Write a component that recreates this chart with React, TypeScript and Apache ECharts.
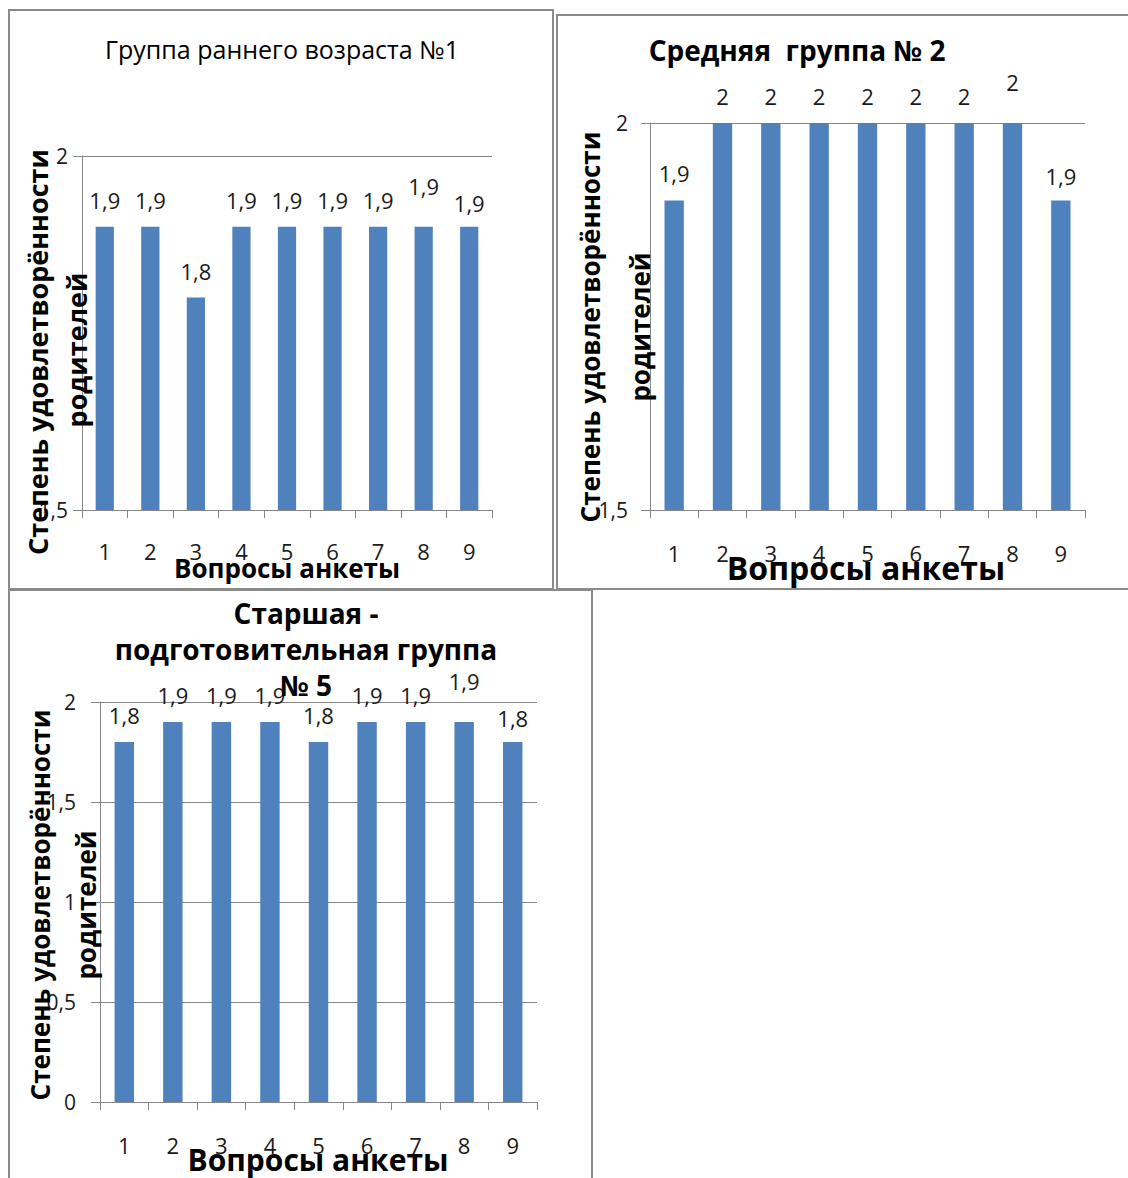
import React, { useEffect, useRef } from "react";
import * as echarts from "echarts";

const categories = ["1", "2", "3", "4", "5", "6", "7", "8", "9"];
const group1Values = [1.9, 1.9, 1.8, 1.9, 1.9, 1.9, 1.9, 1.9, 1.9];
const group2Values = [1.9, 2, 2, 2, 2, 2, 2, 2, 1.9];
const group5Values = [1.8, 1.9, 1.9, 1.9, 1.8, 1.9, 1.9, 1.9, 1.8];
const axisRanges = [
  { min: 1.5, max: 2, interval: 0.5 },
  { min: 1.5, max: 2, interval: 0.5 },
  { min: 0, max: 2, interval: 0.5 },
];
const titles = [
  "Группа раннего возраста №1",
  "Средняя  группа № 2",
  "Старшая -\nподготовительная группа\n№ 5",
];
const xAxisTitle = "Вопросы анкеты";
const yAxisTitleLine1 = "Степень удовлетворённости";
const yAxisTitleLine2 = "родителей";

// label nudges (style only): Excel had labels 8 and 9 dragged slightly
const labelNudge = [0, 0, 0, 0, 0, 0, 0, -14, 3];

const FONT = "'Open Sans', 'Liberation Sans', sans-serif";
const BAR = "#4F81BD";
const GRID = "#868686";
const TXT = "#1a1a1a";

const fmt = (v: number) => String(v).replace(".", ",");

const layouts = [
  { left: 82, top: 156, width: 410, height: 354, xMargin: 30, yMargin: 14 },
  { left: 650, top: 123, width: 435, height: 387, xMargin: 32, yMargin: 22 },
  { left: 100, top: 702, width: 437, height: 400, xMargin: 32, yMargin: 24 },
];

export default function App() {
  const ref = useRef<HTMLDivElement>(null);
  useEffect(() => {
    if (!ref.current) return;
    const chart = echarts.init(ref.current, undefined, { renderer: "svg" });
    const seriesData = [group1Values, group2Values, group5Values];

    const grids = layouts.map((l) => ({
      left: l.left,
      top: l.top,
      width: l.width,
      height: l.height,
      containLabel: false,
    }));
    const xAxes = layouts.map((l, i) => ({
      type: "category",
      gridIndex: i,
      data: categories,
      axisLine: { show: true, lineStyle: { color: GRID, width: 1 } },
      axisTick: { show: true, length: 8, lineStyle: { color: GRID } },
      axisLabel: { margin: l.xMargin, fontSize: 22, color: TXT, fontFamily: FONT },
      splitLine: { show: false },
    }));
    const yAxes = layouts.map((l, i) => ({
      type: "value",
      gridIndex: i,
      min: axisRanges[i].min,
      max: axisRanges[i].max,
      interval: axisRanges[i].interval,
      axisLine: { show: true, lineStyle: { color: GRID, width: 1 } },
      axisTick: { show: true, length: 9, lineStyle: { color: GRID } },
      axisLabel: {
        margin: l.yMargin,
        fontSize: 21,
        color: TXT,
        fontFamily: FONT,
        formatter: (v: number) => fmt(v),
      },
      splitLine: { show: true, lineStyle: { color: GRID, width: 1 } },
    }));
    const series = seriesData.map((vals, i) => ({
      type: "bar",
      xAxisIndex: i,
      yAxisIndex: i,
      barWidth: "40%",
      clip: true,
      itemStyle: { color: BAR },
      data: vals.map((v, k) => ({
        value: v,
        label: { offset: [0, labelNudge[k]] },
      })),
      label: {
        show: true,
        position: "top",
        distance: 16,
        fontSize: 22,
        lineHeight: 22,
        color: TXT,
        fontFamily: FONT,
        formatter: (p: any) => fmt(p.value),
      },
    }));

    const rot = Math.PI / 2;
    const yTitle = (x: number, y: number, text: string, size: number) => ({
      type: "text",
      x,
      y,
      rotation: rot,
      z: 10,
      style: {
        text,
        align: "center",
        verticalAlign: "middle",
        font: `bold ${size}px ${FONT}`,
        fill: "#000",
      },
    });
    const plainText = (x: number, y: number, text: string, font: string, lh?: number) => ({
      type: "text",
      x,
      y,
      z: 10,
      style: {
        text,
        align: "center",
        verticalAlign: "middle",
        font,
        lineHeight: lh,
        fill: "#000",
      },
    });

    const graphic = [
      { type: "rect", shape: { x: 9, y: 10, width: 544, height: 579 }, style: { fill: "none", stroke: "#8a8a8a", lineWidth: 2 }, z: 0 },
      { type: "rect", shape: { x: 557, y: 15, width: 600, height: 574 }, style: { fill: "none", stroke: "#8a8a8a", lineWidth: 2 }, z: 0 },
      { type: "rect", shape: { x: 9, y: 590, width: 583, height: 620 }, style: { fill: "none", stroke: "#8a8a8a", lineWidth: 2 }, z: 0 },
      plainText(282, 49, titles[0], `500 25px ${FONT}`),
      plainText(797, 50, titles[1], `bold 28px ${FONT}`),
      plainText(306, 649, titles[2], `bold 28px ${FONT}`, 36),
      plainText(287, 568, xAxisTitle, `bold 26px ${FONT}`),
      plainText(866, 567, xAxisTitle, `bold 32px ${FONT}`),
      plainText(318, 1159, xAxisTitle, `bold 30px ${FONT}`),
      yTitle(37, 352, yAxisTitleLine1, 27),
      yTitle(76, 350, yAxisTitleLine2, 27),
      yTitle(590, 327, yAxisTitleLine1, 26),
      yTitle(640, 327, yAxisTitleLine2, 26),
      yTitle(40, 905, yAxisTitleLine1, 26),
      yTitle(86, 905, yAxisTitleLine2, 26),
    ];

    chart.setOption({
      animation: false,
      backgroundColor: "#ffffff",
      grid: grids,
      xAxis: xAxes,
      yAxis: yAxes,
      series,
      graphic,
    } as any);
    return () => chart.dispose();
  }, []);
  return (
    <div
      ref={ref}
      style={{ position: "absolute", left: 0, top: 0, width: 1128, height: 1178 }}
    />
  );
}
